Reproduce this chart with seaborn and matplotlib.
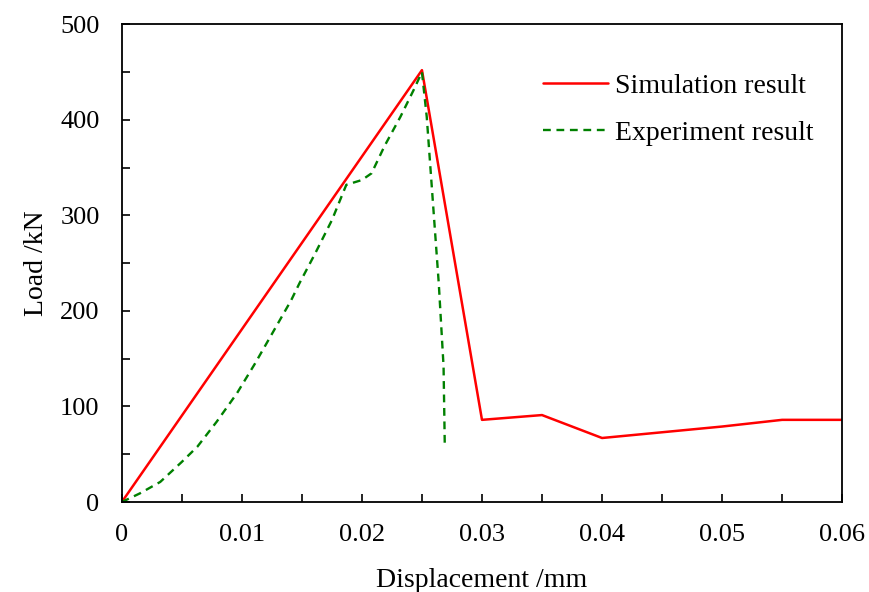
import matplotlib
matplotlib.use("Agg")
import matplotlib.pyplot as plt
import seaborn as sns
import pandas as pd
from matplotlib.ticker import MultipleLocator

# Load-displacement data
sim_disp = [0.0, 0.025, 0.030, 0.035, 0.040, 0.050, 0.055, 0.060]
sim_load = [0, 452, 86, 91, 67, 79, 86, 86]

exp_disp = [0.0, 0.0015, 0.0032, 0.0050, 0.0063, 0.0079, 0.0096, 0.0111, 0.0126,
            0.0141, 0.0148, 0.0161, 0.0175, 0.0187, 0.0200, 0.0208, 0.0219,
            0.0232, 0.0243, 0.0250, 0.0254, 0.0259, 0.0264, 0.0268, 0.0269]
exp_load = [0, 9, 21, 42, 58, 84, 114, 145, 178,
            211, 229, 260, 295, 332, 337, 344, 373,
            403, 431, 450, 403, 316, 229, 142, 60]

x_ticks = [0, 0.01, 0.02, 0.03, 0.04, 0.05, 0.06]
x_tick_labels = ["0", "0.01", "0.02", "0.03", "0.04", "0.05", "0.06"]

sim_df = pd.DataFrame({"Displacement": sim_disp, "Load": sim_load})
exp_df = pd.DataFrame({"Displacement": exp_disp, "Load": exp_load})

sns.set_theme(style="white")
plt.rcParams["font.family"] = ["Liberation Serif", "DejaVu Serif"]

fig = plt.figure(figsize=(8.7, 5.92), dpi=100)
ax = fig.add_axes([0.140, 0.152, 0.828, 0.807])

sns.lineplot(data=sim_df, x="Displacement", y="Load", ax=ax, color="#ff0000",
             linewidth=1.8, sort=False, estimator=None, label="Simulation result")
sns.lineplot(data=exp_df, x="Displacement", y="Load", ax=ax, color="#008000",
             linewidth=1.7, sort=False, estimator=None, label="Experiment result")
ax.lines[1].set_dashes((3.3, 2.4))

ax.set_xlim(0, 0.06)
ax.set_ylim(0, 500)
ax.xaxis.set_minor_locator(MultipleLocator(0.005))
ax.yaxis.set_major_locator(MultipleLocator(100))
ax.yaxis.set_minor_locator(MultipleLocator(50))
ax.set_xticks(x_ticks)
ax.set_xticklabels(x_tick_labels)

ax.tick_params(which="both", direction="in", length=6, width=1.2, color="black",
               labelsize=19, labelcolor="black")
ax.tick_params(axis="x", which="both", pad=16)
ax.tick_params(axis="y", which="both", pad=16)
ax.tick_params(axis="both", which="both", top=False, right=False, bottom=True, left=True)

for side in ["left", "right", "top", "bottom"]:
    ax.spines[side].set_visible(True)
    ax.spines[side].set_color("black")
    ax.spines[side].set_linewidth(1.3)

ax.set_xlabel("Displacement /mm", fontsize=20, color="black", labelpad=16)
ax.set_ylabel("Load /kN", fontsize=20, color="black", labelpad=8)

leg = ax.legend(loc="upper left", frameon=False, fontsize=20, handlelength=2.35,
                handletextpad=0.25, labelspacing=0.78, borderpad=0, borderaxespad=0,
                bbox_to_anchor=(0.585, 0.897))
for t in leg.get_texts():
    t.set_color("black")

fig.savefig("out.png", dpi=100)
